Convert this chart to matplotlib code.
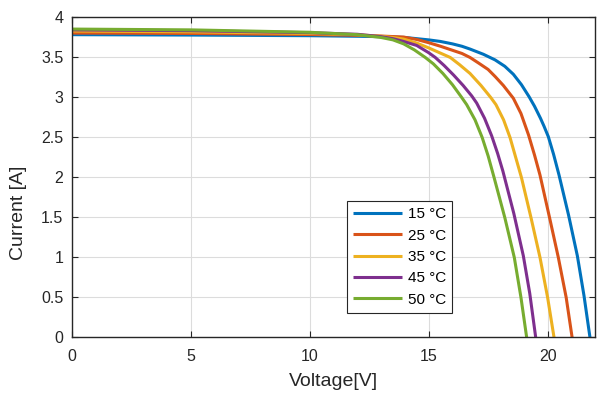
import matplotlib
matplotlib.use("Agg")
import matplotlib.pyplot as plt

plt.rcParams['font.family'] = ['Liberation Sans', 'DejaVu Sans']

# I-V curves, one per temperature
temps = ['15 °C', '25 °C', '35 °C', '45 °C', '50 °C']
colors = ['#0072BD', '#D95319', '#EDB120', '#7E2F8E', '#77AC30']

v_15 = [0, 5, 10, 12, 13, 14, 15, 15.5, 16, 16.4, 16.74, 17.3, 17.79, 18.2,
        18.56, 18.9, 19.22, 19.45, 19.7, 19.85, 20.03, 20.25, 20.48, 20.88,
        21.25, 21.53, 21.78]
i_15 = [3.785, 3.78, 3.772, 3.765, 3.76, 3.75, 3.72, 3.70, 3.67, 3.64, 3.605,
        3.54, 3.47, 3.39, 3.29, 3.16, 3.01, 2.89, 2.74, 2.64, 2.51, 2.29, 2.03,
        1.53, 1.02, 0.52, 0]

v_25 = [0, 5, 10, 12, 13, 13.95, 14.5, 15, 15.5, 16, 16.4, 16.74, 17.1, 17.5,
        17.8, 18.14, 18.56, 18.88, 19.2, 19.45, 19.68, 20.08, 20.45, 20.78,
        21.03]
i_25 = [3.805, 3.8, 3.787, 3.777, 3.768, 3.755, 3.725, 3.685, 3.64, 3.59,
        3.55, 3.5, 3.43, 3.35, 3.26, 3.15, 2.99, 2.8, 2.53, 2.28, 2.03, 1.5,
        1.0, 0.5, 0]

v_35 = [0, 5, 10, 12, 13, 13.5, 13.95, 14.5, 15, 15.91, 16.3, 16.74, 17.2,
        17.61, 17.83, 18.15, 18.42, 18.9, 19.3, 19.68, 20.0, 20.27]
i_35 = [3.83, 3.82, 3.8, 3.785, 3.765, 3.75, 3.73, 3.68, 3.62, 3.5, 3.41,
        3.3, 3.15, 3.0, 2.91, 2.72, 2.5, 2.0, 1.5, 1.0, 0.5, 0]

v_45 = [0, 5, 10, 12, 13, 13.5, 13.95, 14.5, 15, 15.28, 15.65, 16.05, 16.45,
        16.81, 17.02, 17.35, 17.65, 17.9, 18.12, 18.58, 18.98, 19.25, 19.5]
i_45 = [3.845, 3.835, 3.81, 3.79, 3.76, 3.735, 3.70, 3.65, 3.56, 3.5, 3.4,
        3.28, 3.15, 3.02, 2.93, 2.74, 2.52, 2.3, 2.08, 1.55, 1.02, 0.55, 0]

v_50 = [0, 5, 10, 12, 13, 13.5, 13.95, 14.4, 14.86, 15.2, 15.6, 16.0, 16.39,
        16.6, 16.95, 17.25, 17.5, 17.75, 18.2, 18.6, 18.88, 19.12]
i_50 = [3.855, 3.845, 3.815, 3.785, 3.75, 3.72, 3.67, 3.595, 3.5, 3.42, 3.3,
        3.16, 3.0, 2.91, 2.72, 2.5, 2.27, 2.0, 1.5, 1.0, 0.5, 0]

voltages = [v_15, v_25, v_35, v_45, v_50]
currents = [i_15, i_25, i_35, i_45, i_50]

x_ticks = [0, 5, 10, 15, 20]
y_ticks = [0, 0.5, 1, 1.5, 2, 2.5, 3, 3.5, 4]
y_tick_labels = ['0', '0.5', '1', '1.5', '2', '2.5', '3', '3.5', '4']

fig = plt.figure(figsize=(5.97, 3.97), dpi=100)
ax = fig.add_axes([0.12, 0.15, 0.877, 0.806])

for v, i, label, c in zip(voltages, currents, temps, colors):
    ax.plot(v, i, color=c, linewidth=2.2, label=label,
            solid_joinstyle='round', solid_capstyle='butt')

ax.set_xlim(0, 22)
ax.set_ylim(0, 4)
ax.set_xticks(x_ticks)
ax.set_yticks(y_ticks)
ax.set_yticklabels(y_tick_labels)
ax.grid(True, color='#dcdcdc', linewidth=0.8)
ax.set_axisbelow(True)

for s in ax.spines.values():
    s.set_color('#262626')
    s.set_linewidth(1.0)
ax.tick_params(direction='in', top=True, right=True, length=4, width=0.8,
               colors='#262626', labelsize=11.5)
ax.tick_params(axis='x', pad=8)
ax.tick_params(axis='y', pad=6)

ax.set_xlabel('Voltage[V]', fontsize=14, color='#262626', labelpad=7)
ax.set_ylabel('Current [A]', fontsize=14, color='#262626')
ax.yaxis.set_label_coords(-0.085, 0.39)

leg = ax.legend(loc='lower left', bbox_to_anchor=(0.525, 0.077),
                fontsize=11, fancybox=False, framealpha=1,
                edgecolor='#262626', handlelength=3.2, handletextpad=0.4,
                labelspacing=0.48, borderpad=0.4, borderaxespad=0)
leg.get_frame().set_linewidth(0.8)

fig.savefig('out.png', dpi=100)
